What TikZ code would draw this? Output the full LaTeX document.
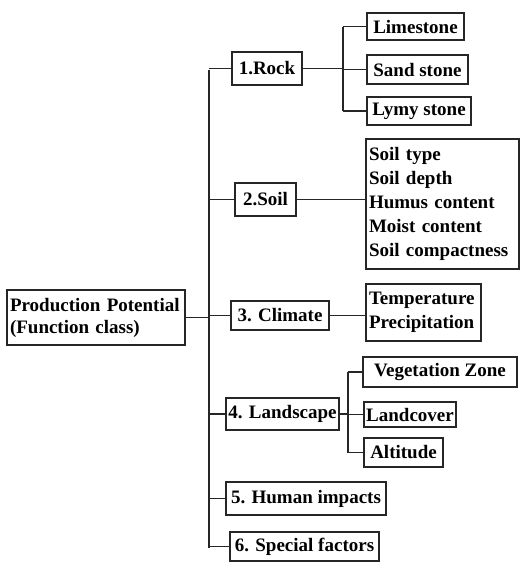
\documentclass[tikz,border=0pt]{standalone}
\usepackage{fontspec}
\setmainfont{Liberation Serif}
\begin{document}
\begin{tikzpicture}[x=1pt,y=-1pt,
  box/.style={draw=black!85,line width=1.3pt,inner sep=0pt,font=\bfseries\fontsize{19}{24}\selectfont},
  lbox/.style={box,align=left},
  conn/.style={draw=black!85,line width=1.3pt}]
\useasboundingbox (0,0) rectangle (521,563);
% main
\node[lbox,minimum width=178pt,minimum height=55pt,text width=172pt,font=\bfseries\fontsize{19}{22}\selectfont] (main) at (96,317.5) {Production Potential\\(Function class)};
% level 1
\node[box,minimum width=70pt,minimum height=33pt] (rock) at (267,68.5) {1.Rock};
\node[box,minimum width=61pt,minimum height=33pt] (soil) at (265.5,199.5) {2.Soil};
\node[box,minimum width=98pt,minimum height=29pt] (climate) at (280,315.5) {3. Climate};
\node[box,minimum width=113pt,minimum height=32pt] (land) at (282.5,414) {4. Landscape};
\node[box,minimum width=160pt,minimum height=33pt] (human) at (306,498.5) {5. Human impacts};
\node[box,minimum width=149pt,minimum height=29pt] (special) at (304.5,546.5) {6. Special factors};
% rock children
\node[box,minimum width=97pt,minimum height=27pt] (lime) at (415.5,26.5) {Limestone};
\node[box,minimum width=101pt,minimum height=29pt] (sand) at (417.5,69.5) {Sand stone};
\node[box,minimum width=104pt,minimum height=28pt] (lymy) at (419,111) {Lymy stone};
% soil child
\node[lbox,minimum width=153pt,minimum height=130pt,text width=147pt] (soilc) at (442.5,204) {Soil type\\Soil depth\\Humus content\\Moist content\\Soil compactness};
% climate child
\node[lbox,minimum width=115pt,minimum height=57pt,text width=109pt] (climc) at (423.5,312.5) {Temperature\\Precipitation};
% landscape children
\node[box,minimum width=154pt,minimum height=30pt] (veg) at (440,372) {Vegetation Zone};
\node[box,minimum width=92pt,minimum height=25pt] (landc) at (410,414.5) {Landcover};
\node[box,minimum width=79pt,minimum height=29pt] (alt) at (403.5,452.5) {Altitude};
% trunk
\coordinate (tTop) at (209,70);
\coordinate (tBot) at (209,548);
\draw[conn] (tTop) -- (tBot);
\draw[conn] (main.east) -- (main.east -| tTop);
\foreach \n in {rock,soil,climate,land,human,special}{
  \draw[conn] (\n.west) -- (\n.west -| tTop);
}
% rock branch
\coordinate (rTop) at (343,27);
\coordinate (rBot) at (343,111);
\draw[conn] (rTop) -- (rBot);
\draw[conn] (rock.east) -- (rock.east -| rTop);
\foreach \n in {lime,sand,lymy}{
  \draw[conn] (\n.west) -- (\n.west -| rTop);
}
% soil, climate
\draw[conn] (soil.east) -- (soil.east -| soilc.west);
\draw[conn] (climate.east) -- (climate.east -| climc.west);
% landscape branch
\coordinate (lTop) at (348,372);
\coordinate (lBot) at (348,453);
\draw[conn] (lTop) -- (lBot);
\draw[conn] (land.east) -- (land.east -| lTop);
\foreach \n in {veg,landc,alt}{
  \draw[conn] (\n.west) -- (\n.west -| lTop);
}
\end{tikzpicture}
\end{document}
